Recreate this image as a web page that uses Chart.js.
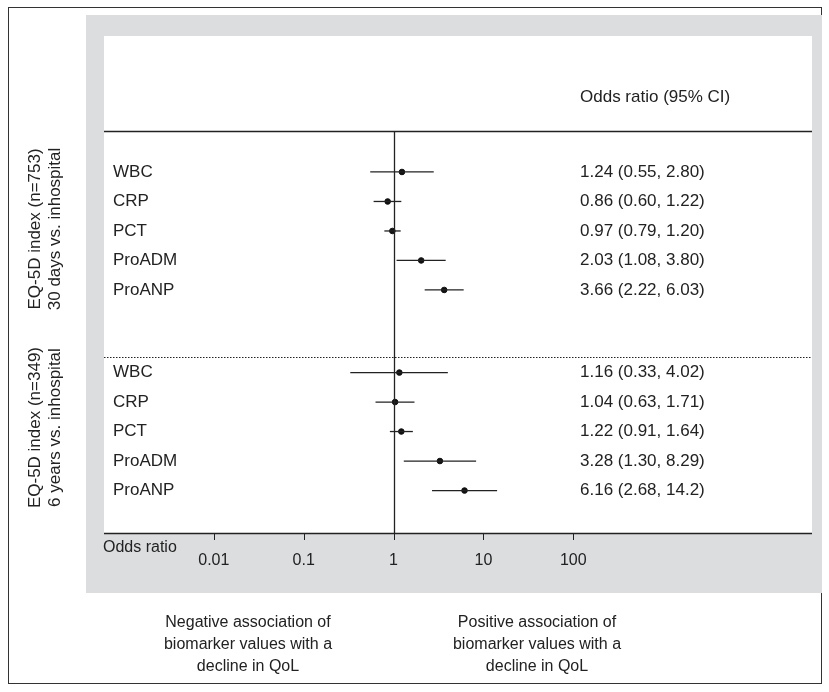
<!DOCTYPE html>
<html>
<head>
<script src="https://cdn.jsdelivr.net/npm/chart.js"></script>
<style>
  body { margin: 0; background: #fff; }
  #wrap { width: 829px; height: 692px; }
</style>
</head>
<body>
<div id="wrap"><canvas id="forest"></canvas></div>
<script>
// data
const biomarkers = ['WBC', 'CRP', 'PCT', 'ProADM', 'ProANP'];
const groupTitles = [['EQ-5D index (n=753)', '30 days vs. inhospital'],
                     ['EQ-5D index (n=349)', '6 years vs. inhospital']];
const or30d = [1.24, 0.86, 0.97, 2.03, 3.66];
const lo30d = [0.55, 0.60, 0.79, 1.08, 2.22];
const hi30d = [2.80, 1.22, 1.20, 3.80, 6.03];
const or6y  = [1.16, 1.04, 1.22, 3.28, 6.16];
const lo6y  = [0.33, 0.63, 0.91, 1.30, 2.68];
const hi6y  = [4.02, 1.71, 1.64, 8.29, 14.2];
const ciText30d = ['1.24 (0.55, 2.80)', '0.86 (0.60, 1.22)', '0.97 (0.79, 1.20)', '2.03 (1.08, 3.80)', '3.66 (2.22, 6.03)'];
const ciText6y  = ['1.16 (0.33, 4.02)', '1.04 (0.63, 1.71)', '1.22 (0.91, 1.64)', '3.28 (1.30, 8.29)', '6.16 (2.68, 14.2)'];
const tickValues = [0.01, 0.1, 1, 10, 100];
const tickLabels = ['0.01', '0.1', '1', '10', '100'];

const GROUP2_START = 6.8;
const rows = [];
biomarkers.forEach((b, i) => rows.push({ name: b, y: i, or: or30d[i], lo: lo30d[i], hi: hi30d[i], txt: ciText30d[i] }));
biomarkers.forEach((b, i) => rows.push({ name: b, y: GROUP2_START + i, or: or6y[i], lo: lo6y[i], hi: hi6y[i], txt: ciText6y[i] }));

const FONT = '17px "Liberation Sans", Arial, sans-serif';
const FONT_SMALL = '16px "Liberation Sans", Arial, sans-serif';

const forestPlugin = {
  id: 'forest',
  beforeDraw(chart) {
    const c = chart.ctx, a = chart.chartArea;
    c.save();
    c.fillStyle = '#fff';
    c.fillRect(0, 0, chart.width, chart.height);
    // outer frame
    c.strokeStyle = '#333'; c.lineWidth = 1;
    c.strokeRect(8.5, 7.5, 813, 676);
    // grey panel
    c.fillStyle = '#dcdddf';
    c.fillRect(86, 15, 736, 578);
    c.fillStyle = '#fff';
    c.fillRect(a.left, a.top, a.right - a.left, a.bottom - a.top);
    c.restore();
  },
  afterDatasetsDraw(chart) {
    const c = chart.ctx, a = chart.chartArea;
    const xs = chart.scales.x, ys = chart.scales.y;
    c.save();
    c.strokeStyle = '#222'; c.lineWidth = 1.3;
    // header line
    const hy = Math.round(ys.getPixelForValue(-1.39)) + 0.5;
    c.beginPath(); c.moveTo(a.left, hy); c.lineTo(a.right, hy); c.stroke();
    // dotted separator
    const dy = Math.round(ys.getPixelForValue(6.27)) + 0.5;
    c.setLineDash([1.5, 1.5]); c.lineWidth = 1;
    c.beginPath(); c.moveTo(a.left, dy); c.lineTo(a.right, dy); c.stroke();
    c.setLineDash([]);
    // reference line at OR = 1
    const x1 = Math.round(xs.getPixelForValue(1)) + 0.5;
    c.lineWidth = 1.3;
    c.beginPath(); c.moveTo(x1, hy); c.lineTo(x1, a.bottom); c.stroke();
    // bottom axis
    c.beginPath(); c.moveTo(a.left, a.bottom + 0.5); c.lineTo(a.right, a.bottom + 0.5); c.stroke();
    c.lineWidth = 1;
    tickValues.forEach(v => {
      const x = Math.round(xs.getPixelForValue(v)) + 0.5;
      c.beginPath(); c.moveTo(x, a.bottom); c.lineTo(x, a.bottom + 7); c.stroke();
    });
    // confidence intervals
    c.strokeStyle = '#222'; c.lineWidth = 1.3;
    rows.forEach(r => {
      const y = ys.getPixelForValue(r.y);
      c.beginPath(); c.moveTo(xs.getPixelForValue(r.lo), y); c.lineTo(xs.getPixelForValue(r.hi), y); c.stroke();
    });
    // texts
    c.fillStyle = '#222'; c.font = FONT;
    c.textBaseline = 'middle'; c.textAlign = 'left';
    c.fillText('Odds ratio (95% CI)', 580, ys.getPixelForValue(-2.54));
    rows.forEach(r => {
      const y = ys.getPixelForValue(r.y);
      c.fillText(r.name, 113, y);
      c.fillText(r.txt, 580, y);
    });
    c.font = FONT_SMALL;
    c.fillText('Odds ratio', 103, 548);
    c.textAlign = 'center';
    tickValues.forEach((v, i) => c.fillText(tickLabels[i], xs.getPixelForValue(v), 561));
    // group titles (rotated)
    c.font = FONT;
    const centres = [ys.getPixelForValue(2) - 2, ys.getPixelForValue(GROUP2_START + 2) - 4];
    groupTitles.forEach((t, g) => {
      c.save();
      c.translate(35, centres[g]);
      c.rotate(-Math.PI / 2);
      c.fillText(t[0], 0, 0);
      c.fillText(t[1], 0, 20);
      c.restore();
    });
    // bottom captions
    c.font = FONT_SMALL;
    const capL = ['Negative association of', 'biomarker values with a', 'decline in QoL'];
    const capR = ['Positive association of', 'biomarker values with a', 'decline in QoL'];
    capL.forEach((s, i) => c.fillText(s, 248, 623 + i * 22));
    capR.forEach((s, i) => c.fillText(s, 537, 623 + i * 22));
    c.restore();
  }
};

new Chart(document.getElementById('forest'), {
  type: 'scatter',
  data: {
    datasets: [{
      data: rows.map(r => ({ x: r.or, y: r.y })),
      backgroundColor: '#111',
      borderColor: '#111',
      pointRadius: 2.8,
      pointHoverRadius: 2.8
    }]
  },
  options: {
    responsive: true,
    maintainAspectRatio: false,
    animation: false,
    events: [],
    layout: { padding: { left: 104, right: 17, top: 36, bottom: 159 } },
    plugins: { legend: { display: false }, tooltip: { enabled: false } },
    scales: {
      x: { type: 'logarithmic', display: false, min: Math.pow(10, -3.211), max: Math.pow(10, 4.656) },
      y: { type: 'linear', display: false, reverse: true, min: -4.61, max: 12.24 }
    }
  },
  plugins: [forestPlugin]
});
</script>
</body>
</html>
